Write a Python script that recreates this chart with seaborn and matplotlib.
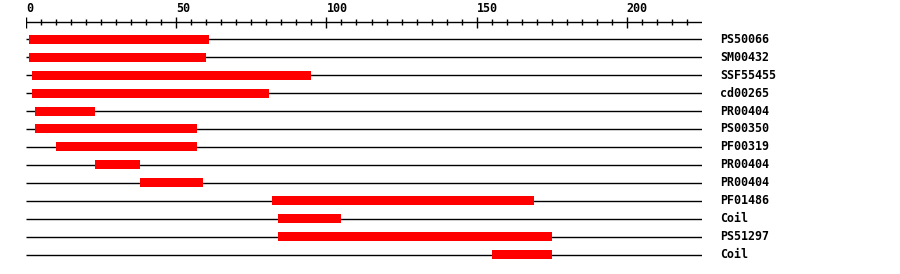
import matplotlib
matplotlib.use("Agg")
import matplotlib.pyplot as plt
import seaborn as sns
import pandas as pd

labels = ["PS50066", "SM00432", "SSF55455", "cd00265", "PR00404", "PS00350",
          "PF00319", "PR00404", "PR00404", "PF01486", "Coil", "PS51297", "Coil"]
starts = [1, 1, 2, 2, 3, 3, 10, 23, 38, 82, 84, 84, 155]
ends = [61, 60, 95, 81, 23, 57, 57, 38, 59, 169, 105, 175, 175]
seq_len = 225
major_ticks = [0, 50, 100, 150, 200]
minor_ticks = list(range(0, 225, 5))

df = pd.DataFrame({"label": labels, "start": starts, "end": ends})
df["row"] = range(len(df))
df["width"] = df["end"] - df["start"]

sns.set_theme(style="white")
plt.rcParams["font.family"] = ["DejaVu Sans Mono", "DejaVu Sans"]

fig = plt.figure(figsize=(9, 2.74), dpi=100)
ax = fig.add_axes([26.3 / 900, 0, 675.4 / 900, 1])
ax.set_xlim(0, seq_len)
ax.set_ylim(13.056, -2.167)
ax.axis("off")

# row baselines
ax.hlines(df["row"], 0, seq_len, color="black", linewidth=1.0, zorder=1)
# domain bars
ax.barh(df["row"], df["width"], left=df["start"], height=0.5,
        color="#ff0000", edgecolor="none", zorder=2)
# labels
for _, r in df.iterrows():
    ax.text(1.0, r["row"], r["label"], transform=ax.get_yaxis_transform(),
            ha="left", va="center", fontsize=8.4, fontweight="bold",
            color="black")
# move labels to pixel 720
for t in ax.texts:
    t.set_x((720 - 26.3) / 675.4)

# ruler
ruler_y = -0.944
ax.hlines(ruler_y, 0, seq_len, color="black", linewidth=1.0)
for m in minor_ticks:
    if m in major_ticks:
        ax.vlines(m, -1.222, -0.611, color="black", linewidth=1.0)
    else:
        ax.vlines(m, -1.111, -0.778, color="black", linewidth=1.0)
for m in major_ticks:
    ax.text(m, -1.722, str(m), ha="left", va="center", fontsize=8.4,
            fontweight="bold", color="black")

fig.savefig("out.png", dpi=100)
